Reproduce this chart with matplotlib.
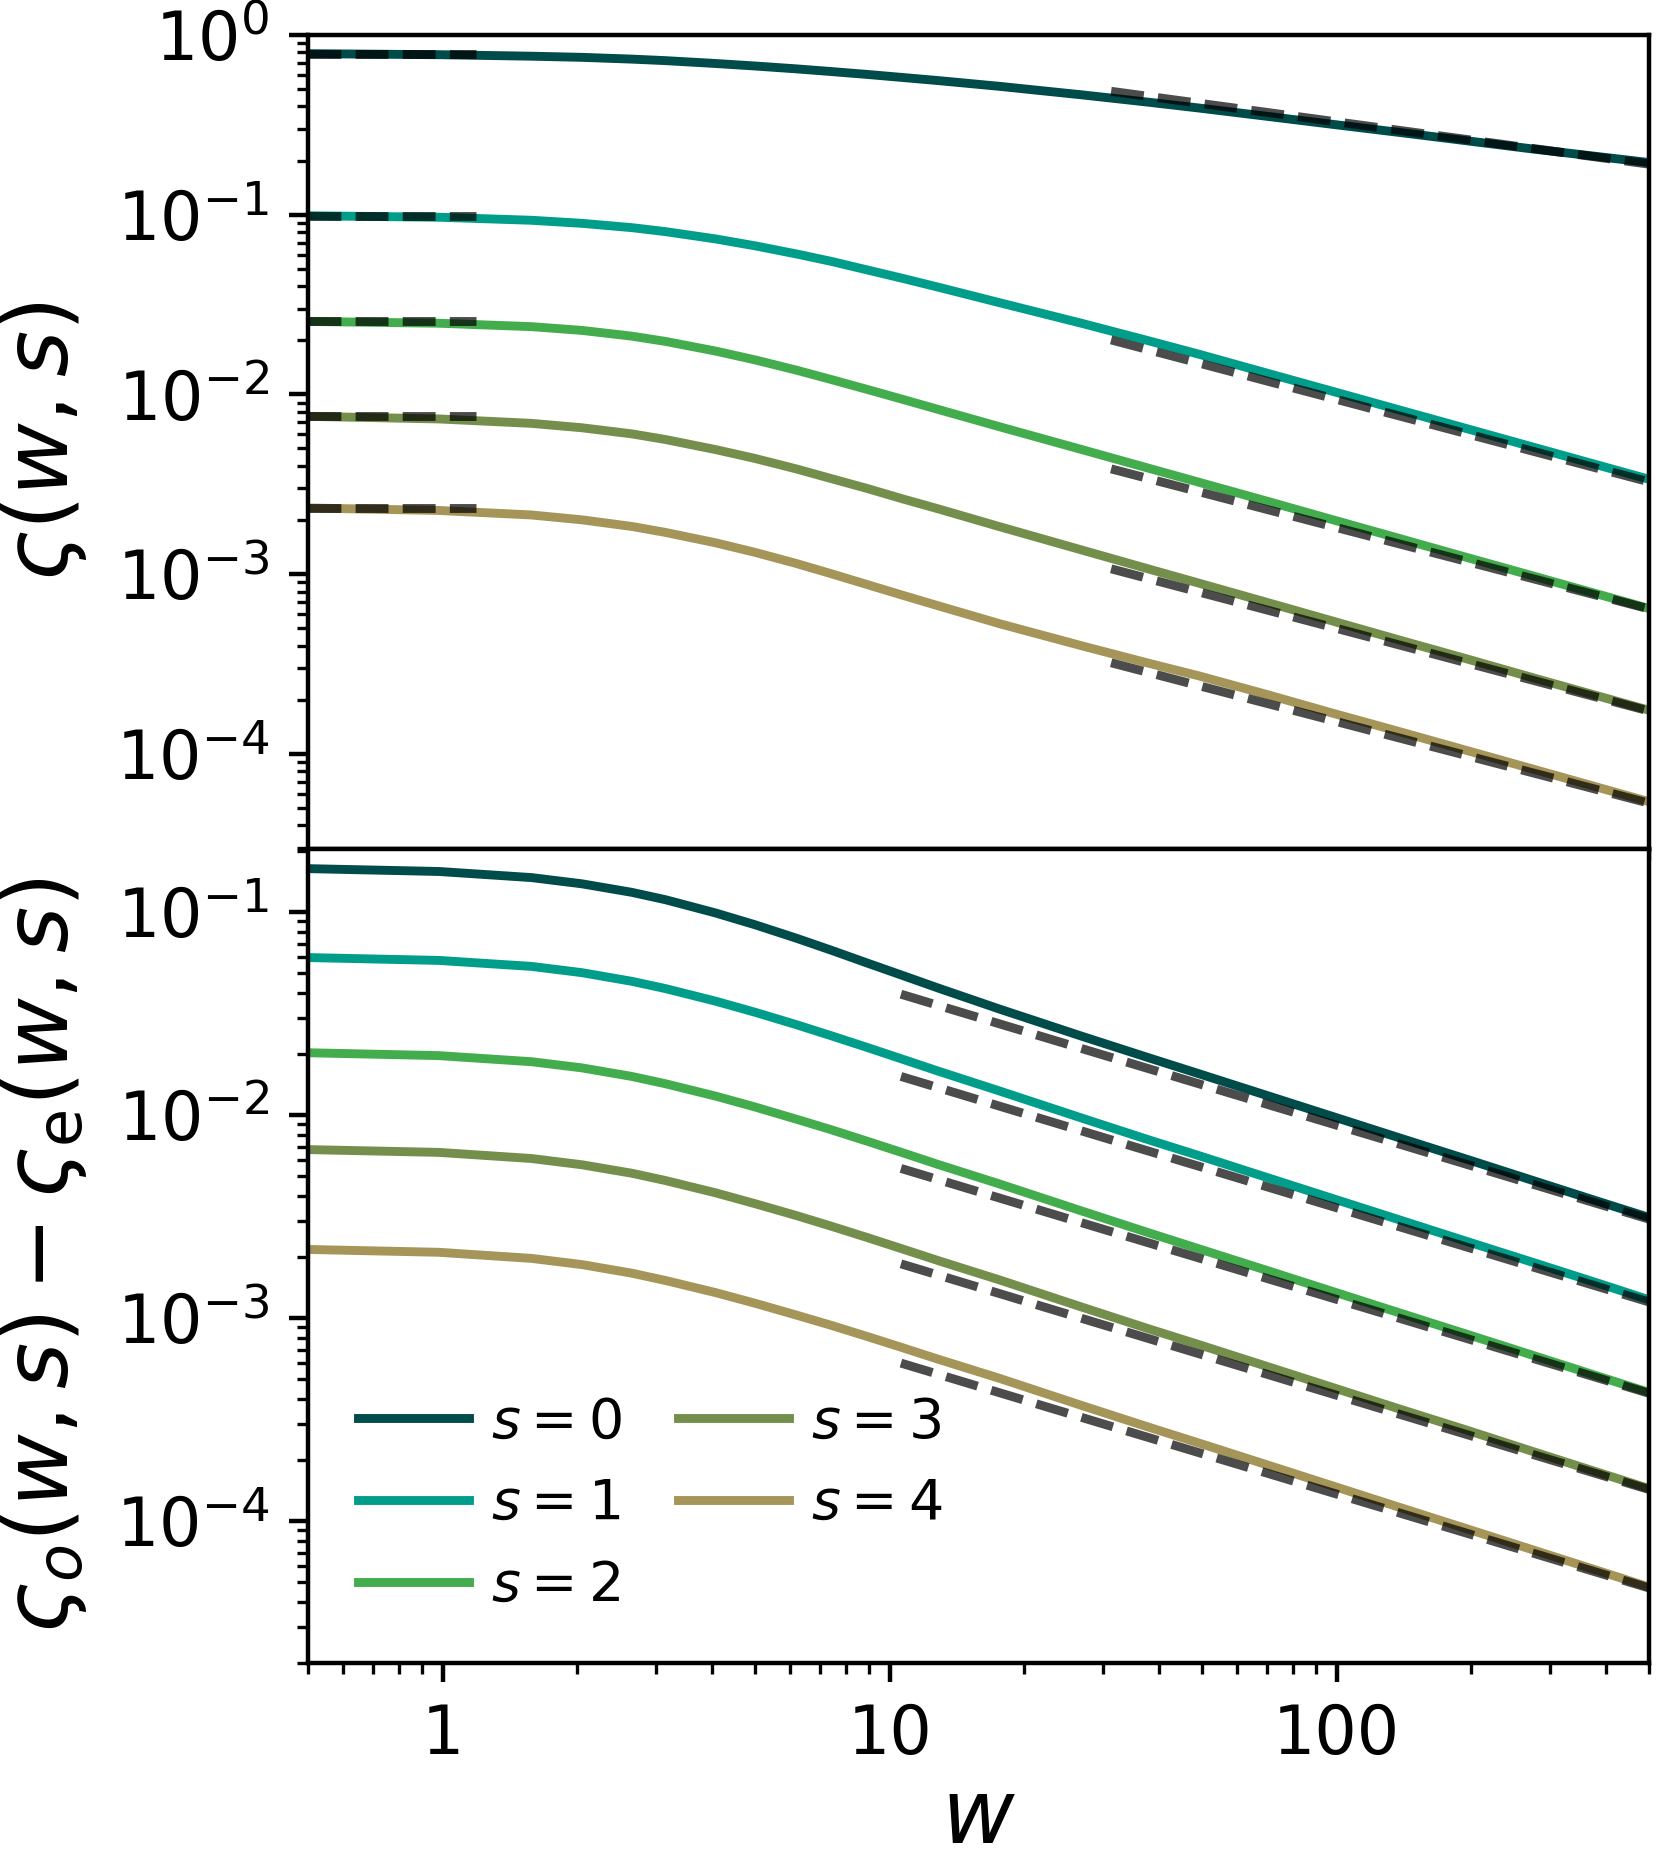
import numpy as np
import matplotlib
matplotlib.use("Agg")
import matplotlib.pyplot as plt

# values
s_values = [0, 1, 2, 3, 4]
colors = ["#004c4a", "#009e8a", "#43ad4e", "#748f4b", "#a59558"]

w_top = [0.5, 0.98, 1.58, 2.05, 2.65, 3.15, 4.08, 5.0, 6.18, 7.4, 8.93, 10.7,
         12.9, 17.6, 27, 38, 49.3, 69.7, 98.2, 138, 195, 275, 500]
top_s0 = [0.787, 0.777, 0.762, 0.751, 0.734, 0.720, 0.694, 0.672, 0.648, 0.626,
          0.603, 0.580, 0.557, 0.518, 0.464, 0.4225, 0.392, 0.353, 0.318, 0.287,
          0.258, 0.232, 0.195]
top_s1 = [0.0986, 0.0968, 0.0931, 0.0895, 0.0847, 0.0805, 0.0733, 0.0671, 0.0605,
          0.0550, 0.0492, 0.0442, 0.0394, 0.0324, 0.0248, 0.01986, 0.01671,
          0.01315, 0.01038, 0.0082, 0.00646, 0.00509, 0.00337]
top_s2 = [0.02547, 0.02489, 0.02382, 0.0227, 0.02109, 0.01972, 0.01742, 0.01556,
          0.01365, 0.0121, 0.01064, 0.00938, 0.00822, 0.00661, 0.00492, 0.00388,
          0.00324, 0.00255, 0.002004, 0.00158, 0.00124, 0.000977, 0.000643]
top_s3 = [0.00755, 0.0073, 0.0069, 0.00652, 0.00603, 0.00561, 0.00493, 0.0044,
          0.00385, 0.0034, 0.00299, 0.00262, 0.0023, 0.001837, 0.001358, 0.001067,
          0.000889, 0.000697, 0.000547, 0.00043, 0.000338, 0.000265, 0.0001746]
top_s4 = [0.002333, 0.00226, 0.002133, 0.002004, 0.001841, 0.001706, 0.001493,
          0.001321, 0.001146, 0.001005, 0.000873, 0.000762, 0.000664, 0.00053,
          0.000398, 0.000319, 0.000271, 0.000214, 0.000168, 0.000133, 0.0001045,
          0.0000822, 0.0000541]

# asymptotes, top panel
w_small = [0.5, 1.19]
small_w_level = [0.787, 0.0987, 0.02545, 0.00755, 0.002334]
w_large_top = [31.3, 500]
large_top_start = [0.486, 0.0201, 0.00385, 0.00107, 0.000321]
large_top_end = [0.191, 0.00326, 0.00064, 0.000173, 0.0000531]

w_bot = [0.5, 0.98, 1.58, 2.05, 2.65, 3.15, 4.08, 5.0, 6.18, 7.4, 8.93, 10.7,
         12.9, 17.6, 27, 38, 49, 70, 98, 138, 195, 275, 390, 500]
bot_s0 = [0.1637, 0.1585, 0.1479, 0.1378, 0.1251, 0.1151, 0.0990, 0.0866, 0.0744,
          0.0649, 0.0560, 0.0487, 0.0421, 0.0333, 0.0244, 0.01915, 0.01603,
          0.01247, 0.00984, 0.00773, 0.00607, 0.00476, 0.00372, 0.00313]
bot_s1 = [0.0597, 0.0578, 0.0540, 0.0503, 0.0456, 0.0420, 0.0364, 0.0321, 0.0279,
          0.0246, 0.0215, 0.01883, 0.01641, 0.01315, 0.00964, 0.00755, 0.00633,
          0.00492, 0.00388, 0.00305, 0.00239, 0.00188, 0.00147, 0.00123]
bot_s2 = [0.02028, 0.01963, 0.01832, 0.01708, 0.0155, 0.01427, 0.0124, 0.01096,
          0.00955, 0.00847, 0.00742, 0.00652, 0.00569, 0.00458, 0.00336, 0.00263,
          0.0022, 0.001714, 0.001352, 0.001062, 0.000834, 0.000655, 0.000512,
          0.00043]
bot_s3 = [0.00676, 0.00655, 0.00611, 0.00569, 0.00517, 0.00476, 0.00414, 0.00366,
          0.0032, 0.002836, 0.002489, 0.002188, 0.001913, 0.001542, 0.00113,
          0.000885, 0.000742, 0.000577, 0.000455, 0.000357, 0.000281, 0.00022,
          0.000172, 0.0001445]
bot_s4 = [0.002178, 0.002109, 0.001968, 0.001834, 0.001664, 0.001532, 0.001335,
          0.001183, 0.001035, 0.000921, 0.00081, 0.000714, 0.000625, 0.000505,
          0.00037, 0.00029, 0.000243, 0.000189, 0.000149, 0.000117, 0.0000918,
          0.0000721, 0.0000564, 0.0000473]

# asymptotes, bottom panel
w_large_bot = [10.6, 500]
large_bot_start = [0.0394, 0.0155, 0.00546, 0.00185, 0.000600]
large_bot_end = [0.00307, 0.00120, 0.000426, 0.000143, 0.0000468]

top_curves = [top_s0, top_s1, top_s2, top_s3, top_s4]
bot_curves = [bot_s0, bot_s1, bot_s2, bot_s3, bot_s4]

W, H, DPI = 1659, 1871, 400
fig = plt.figure(figsize=(W / DPI, H / DPI), dpi=DPI)
ax1 = fig.add_axes([0.1857, 0.5462, 0.8083, 0.4351])
ax2 = fig.add_axes([0.1857, 0.1112, 0.8083, 0.4350], sharex=ax1)

lw = 1.6
for i, s in enumerate(s_values):
    ax1.plot(w_top, top_curves[i], color=colors[i], lw=lw)
    ax2.plot(w_bot, bot_curves[i], color=colors[i], lw=lw, label=f"$s={s}$")

dash = dict(color="k", alpha=0.7, lw=1.6, ls="--")
for i in range(len(s_values)):
    ax1.plot(w_small, [small_w_level[i]] * 2, **dash)
    ax1.plot(w_large_top, [large_top_start[i], large_top_end[i]], **dash)
    ax2.plot(w_large_bot, [large_bot_start[i], large_bot_end[i]], **dash)

for ax in (ax1, ax2):
    ax.set_xscale("log")
    ax.set_yscale("log")
    ax.tick_params(labelsize=12)

ax1.set_xlim(0.5, 500)
ax1.set_ylim(2.95e-5, 1.0)
ax2.set_ylim(2.0e-5, 0.2044)
ax1.tick_params(labelbottom=False)
ax2.set_xticks([1, 10, 100])
ax2.set_xticklabels(["1", "10", "100"])

ax1.set_ylabel(r"$\varsigma(w,s)$", fontsize=16)
ax2.set_ylabel(r"$\varsigma_o(w,s)-\varsigma_{\rm e}(w,s)$", fontsize=16)
ax1.yaxis.set_label_coords(-0.163, 0.5)
ax2.yaxis.set_label_coords(-0.163, 0.5)
ax2.set_xlabel(r"$w$", fontsize=16, labelpad=1.2)

ax2.legend(loc="lower left", ncol=2, frameon=False, fontsize=10,
           handletextpad=0.4, columnspacing=1.0)

fig.savefig("out.png", dpi=DPI)
